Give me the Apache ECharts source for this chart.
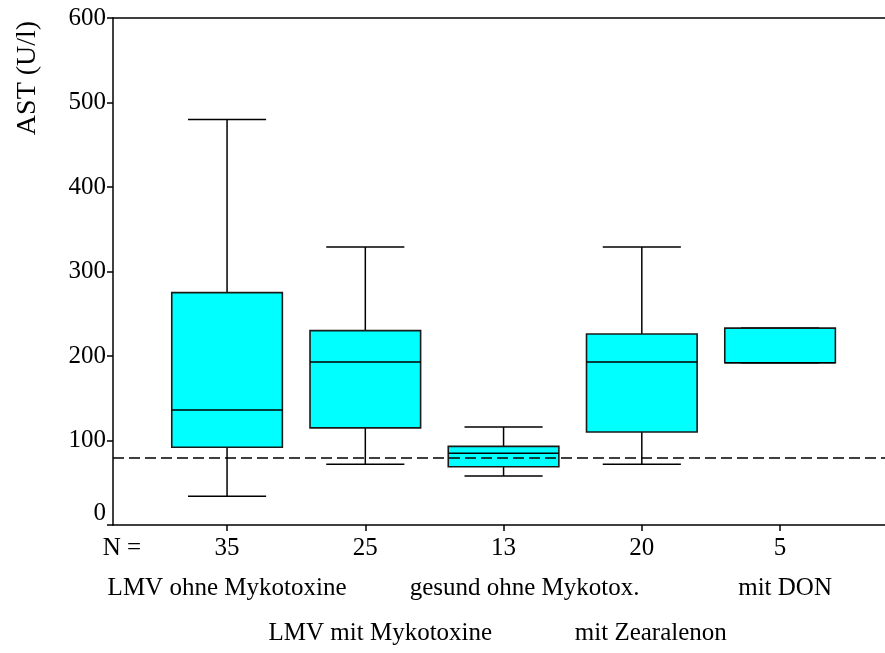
<!DOCTYPE html>
<html><head><meta charset="utf-8">
<script src="https://cdn.jsdelivr.net/npm/echarts@6/dist/echarts.min.js"></script>
<style>html,body{margin:0;padding:0;background:#fff}#c{width:885px;height:653px}</style>
</head><body><div id="c"></div>
<script>
// ---- data ----
const categories = ['LMV ohne Mykotoxine', 'LMV mit Mykotoxine', 'gesund ohne Mykotox.', 'mit Zearalenon', 'mit DON'];
const nCounts = [35, 25, 13, 20, 5];
const whiskerLow = [34, 72, 58, 72, 192];
const q1 = [92, 115, 69, 110, 192];
const median = [136, 193, 85, 193, 192];
const q3 = [275, 230, 93, 226, 233];
const whiskerHigh = [480, 329, 116, 329, 233];
const referenceValue = 80;
const yTicks = [0, 100, 200, 300, 400, 500, 600];
const yTitle = 'AST (U/l)';
const nLabel = 'N =';

// ---- layout / style (not data) ----
const FONT = '"Liberation Serif", "Times New Roman", serif';
const FS = 25;
const BOX_W = 0.80, CAP_W = 0.565;
const X_MIN = 0.175, X_MAX = 5.759;
const nameDx = [0, 15, 21, 9, 5];
const nameDy = [63, 108];

const positions = categories.map((c, i) => i + 1);
const boxData = categories.map((c, i) => [positions[i], whiskerLow[i], q1[i], median[i], q3[i], whiskerHigh[i]]);
const nameData = categories.map((c, i) => [positions[i], yTicks[0]]);

const chart = echarts.init(document.getElementById('c'), null, {renderer: 'canvas'});
const ls = {stroke: '#000', lineWidth: 1.5};

chart.setOption({
  animation: false,
  backgroundColor: '#fff',
  textStyle: {fontFamily: FONT},
  grid: {left: 113, right: 0, top: 18, bottom: 128, containLabel: false, outerBoundsMode: 'none'},
  xAxis: [{
    type: 'value', min: X_MIN, max: X_MAX, position: 'bottom',
    splitLine: {show: false},
    axisLine: {show: true, lineStyle: {color: '#000', width: 1.5}},
    axisTick: {show: true, customValues: positions, length: 6, lineStyle: {color: '#000', width: 1.5}},
    axisLabel: {show: true, customValues: positions, margin: 11, color: '#000', fontSize: FS, fontFamily: FONT,
      formatter: v => String(nCounts[Math.round(v) - 1])}
  }, {
    type: 'value', min: X_MIN, max: X_MAX, position: 'top',
    splitLine: {show: false},
    axisLine: {show: true, lineStyle: {color: '#000', width: 1.5}},
    axisTick: {show: false}, axisLabel: {show: false}
  }],
  yAxis: {
    type: 'value', min: yTicks[0], max: yTicks[yTicks.length - 1], interval: yTicks[1] - yTicks[0],
    splitLine: {show: false},
    axisLine: {show: true, lineStyle: {color: '#000', width: 1.5}},
    axisTick: {show: true, length: 6, lineStyle: {color: '#000', width: 1.5}},
    axisLabel: {margin: 7, color: '#000', fontSize: FS, fontFamily: FONT,
      formatter: v => v === 0 ? '{z|0}' : String(v),
      rich: {z: {fontSize: FS, fontFamily: FONT, color: '#000', padding: [0, 0, 24, 0]}}}
  },
  graphic: [
    {type: 'text', x: 28, y: 78, rotation: Math.PI / 2,
      style: {text: yTitle, fontSize: 28, fontFamily: FONT, fill: '#000', align: 'center', verticalAlign: 'middle'}},
    {type: 'text', x: 122, y: 548,
      style: {text: nLabel, fontSize: FS, fontFamily: FONT, fill: '#000', align: 'center', verticalAlign: 'middle'}}
  ],
  series: [{
    type: 'custom', name: 'box', z: 2,
    data: boxData,
    encode: {x: 0, y: [1, 2, 3, 4, 5]},
    renderItem: function (params, api) {
      const x = api.value(0);
      const lo = api.coord([x, api.value(1)]);
      const b1 = api.coord([x, api.value(2)]);
      const md = api.coord([x, api.value(3)]);
      const b3 = api.coord([x, api.value(4)]);
      const hi = api.coord([x, api.value(5)]);
      const bw = api.size([BOX_W, 0])[0];
      const cw = api.size([CAP_W, 0])[0];
      const cx = lo[0];
      return {type: 'group', children: [
        {type: 'line', shape: {x1: cx, y1: hi[1], x2: cx, y2: b3[1]}, style: ls},
        {type: 'line', shape: {x1: cx, y1: b1[1], x2: cx, y2: lo[1]}, style: ls},
        {type: 'line', shape: {x1: cx - cw / 2, y1: hi[1], x2: cx + cw / 2, y2: hi[1]}, style: ls},
        {type: 'line', shape: {x1: cx - cw / 2, y1: lo[1], x2: cx + cw / 2, y2: lo[1]}, style: ls},
        {type: 'rect', shape: {x: cx - bw / 2, y: b3[1], width: bw, height: b1[1] - b3[1]},
          style: {fill: '#00ffff', stroke: '#1a1a1a', lineWidth: 1.6}},
        {type: 'line', shape: {x1: cx - bw / 2, y1: md[1], x2: cx + bw / 2, y2: md[1]}, style: ls}
      ]};
    }
  }, {
    type: 'custom', name: 'names', z: 3, clip: false, silent: true,
    data: nameData,
    encode: {x: 0, y: 1},
    renderItem: function (params, api) {
      const i = params.dataIndex;
      const p = api.coord([api.value(0), api.value(1)]);
      return {type: 'text', x: p[0] + nameDx[i], y: p[1] + nameDy[i % 2],
        style: {text: categories[i], fontSize: FS, fontFamily: FONT, fill: '#000', align: 'center', verticalAlign: 'middle'}};
    }
  }, {
    type: 'line', name: 'ref', z: 5, data: [], silent: true,
    markLine: {silent: true, symbol: 'none', label: {show: false},
      lineStyle: {color: '#000', type: [11, 5], width: 1.5},
      data: [{yAxis: referenceValue}]}
  }]
});
</script></body></html>
